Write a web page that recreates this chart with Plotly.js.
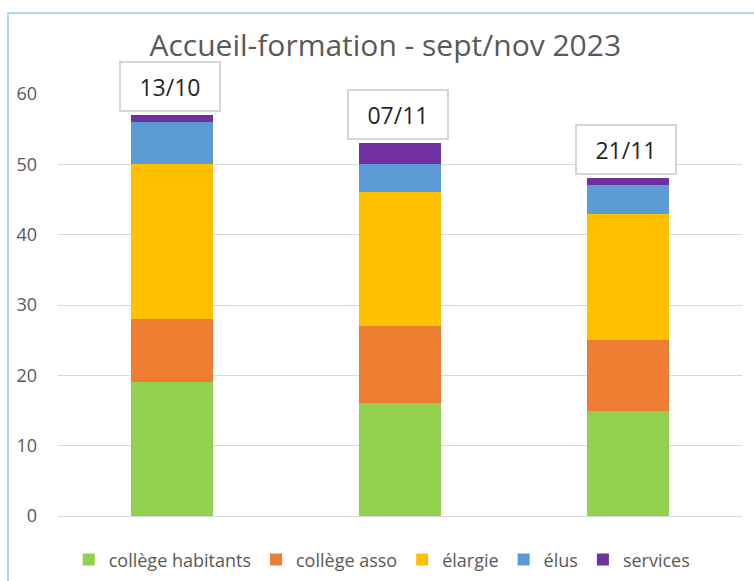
<!DOCTYPE html>
<html>
<head>
<meta charset="utf-8">
<script src="https://cdn.plot.ly/plotly-3.0.1.min.js"></script>
<style>
  html, body { margin: 0; padding: 0; background: white; }
  #wrap { position: relative; width: 754px; height: 581px; overflow: hidden; }
  #chart { width: 754px; height: 581px; }
  #frame {
    position: absolute; left: 7px; top: 12px; width: 800px; height: 600px;
    border-left: 2px solid #a9dcf2; border-top: 2px solid #a9dcf2;
    pointer-events: none;
  }
</style>
</head>
<body>
<div id="wrap">
  <div id="chart"></div>
  <div id="frame"></div>
</div>
<script>
  // sessions (dates)
  const sessions = ["13/10", "07/11", "21/11"];

  // participants per group
  const collegeHabitants = [19, 16, 15];
  const collegeAsso = [9, 11, 10];
  const elargie = [22, 19, 18];
  const elus = [6, 4, 4];
  const services = [1, 3, 1];

  const seriesNames = ["collège habitants", "collège asso", "élargie", "élus", "services"];
  const seriesColors = ["#92d050", "#ed7d31", "#ffc000", "#5b9bd5", "#7030a0"];
  const seriesValues = [collegeHabitants, collegeAsso, elargie, elus, services];

  const traces = seriesValues.map((vals, i) => ({
    type: "bar",
    x: sessions,
    y: vals,
    name: seriesNames[i],
    marker: { color: seriesColors[i] },
    hoverinfo: "skip"
  }));

  const totals = sessions.map((_, k) => seriesValues.reduce((a, s) => a + s[k], 0));

  const annotations = sessions.map((s, k) => ({
    x: s,
    y: totals[k],
    xref: "x",
    yref: "y",
    yanchor: "bottom",
    yshift: 3,
    xshift: -2,
    text: s,
    showarrow: false,
    width: 96,
    height: 45,
    borderpad: 1,
    bgcolor: "white",
    bordercolor: "#d6d6d6",
    borderwidth: 2,
    font: { family: "Open Sans, sans-serif", size: 23, color: "#262626" }
  }));

  const layout = {
    width: 754,
    height: 581,
    margin: { l: 58, r: 12, t: 94, b: 65, autoexpand: false },
    paper_bgcolor: "rgba(0,0,0,0)",
    plot_bgcolor: "white",
    barmode: "stack",
    bargap: 0.64,
    showlegend: true,
    title: {
      text: "Accueil-formation - sept/nov 2023",
      x: 0.511,
      xanchor: "center",
      y: 0.922,
      yanchor: "middle",
      font: { family: "Open Sans, sans-serif", size: 30, color: "#595959" }
    },
    xaxis: {
      type: "category",
      showticklabels: false,
      showgrid: false,
      zeroline: false,
      showline: false,
      ticks: ""
    },
    yaxis: {
      range: [0, 60],
      dtick: 10,
      showgrid: true,
      gridcolor: "#d9d9d9",
      gridwidth: 1,
      zeroline: true,
      zerolinecolor: "#d9d9d9",
      zerolinewidth: 1,
      showline: false,
      ticks: "",
      ticklabelstandoff: 20,
      tickfont: { family: "Open Sans, sans-serif", size: 18, color: "#595959" }
    },
    legend: {
      orientation: "h",
      x: 0.474,
      xanchor: "center",
      y: -0.104,
      yanchor: "middle",
      itemwidth: 30,
      font: { family: "Open Sans, sans-serif", size: 18, color: "#595959" },
      traceorder: "normal"
    },
    annotations
  };

  Plotly.newPlot("chart", traces, layout, { displayModeBar: false, staticPlot: true });
</script>
</body>
</html>
